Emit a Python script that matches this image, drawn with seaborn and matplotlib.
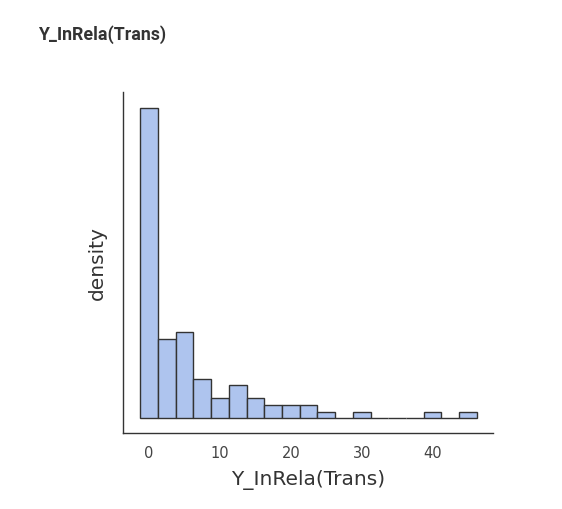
import numpy as np
import matplotlib
matplotlib.use("Agg")
import matplotlib.pyplot as plt
import seaborn as sns

# histogram: bin centres and counts (bin width 2.5)
bin_centers = [0, 2.5, 5, 7.5, 10, 12.5, 15, 17.5, 20, 22.5,
               25, 27.5, 30, 32.5, 35, 37.5, 40, 42.5, 45]
bin_counts = [47, 12, 13, 6, 3, 5, 3, 2, 2, 2,
              1, 0, 1, 0, 0, 0, 1, 0, 1]
bin_edges = [-1.25 + 2.5 * i for i in range(20)]
x_ticks = [0, 10, 20, 30, 40]
var_name = "Y_InRela(Trans)"

sns.set_style("white")
plt.rcParams['font.family'] = ['DejaVu Sans']

fig = plt.figure(figsize=(5.62, 5.09), dpi=100)
ax = fig.add_axes([0.219, 0.149, 0.658, 0.670])

sns.histplot(x=bin_centers, weights=bin_counts, bins=bin_edges, stat="density",
             color="#aec4ee", edgecolor="#333333", linewidth=1, alpha=1, ax=ax)

total = sum(bin_counts) * 2.5
ax.set_xlim(-3.67, 48.5)
ax.set_ylim(-2.27 / total, 49.4 / total)
ax.set_xticks(x_ticks)
ax.set_yticks([])
ax.tick_params(axis="x", length=3, width=1, color="#333333", labelsize=10.5,
               labelcolor="#444444", pad=6)
for s in ["top", "right"]:
    ax.spines[s].set_visible(False)
for s in ["left", "bottom"]:
    ax.spines[s].set_color("#333333")
    ax.spines[s].set_linewidth(1)

ax.set_xlabel(var_name, fontsize=14.5, color="#333333", labelpad=7)
ax.set_ylabel("density", fontsize=14.5, color="#333333", labelpad=12)

fig.text(0.068, 0.933, var_name, fontsize=12.8, fontweight="bold",
         family=["Roboto", "DejaVu Sans"], color="#333333", va="center")

fig.savefig("out.png", dpi=100)
